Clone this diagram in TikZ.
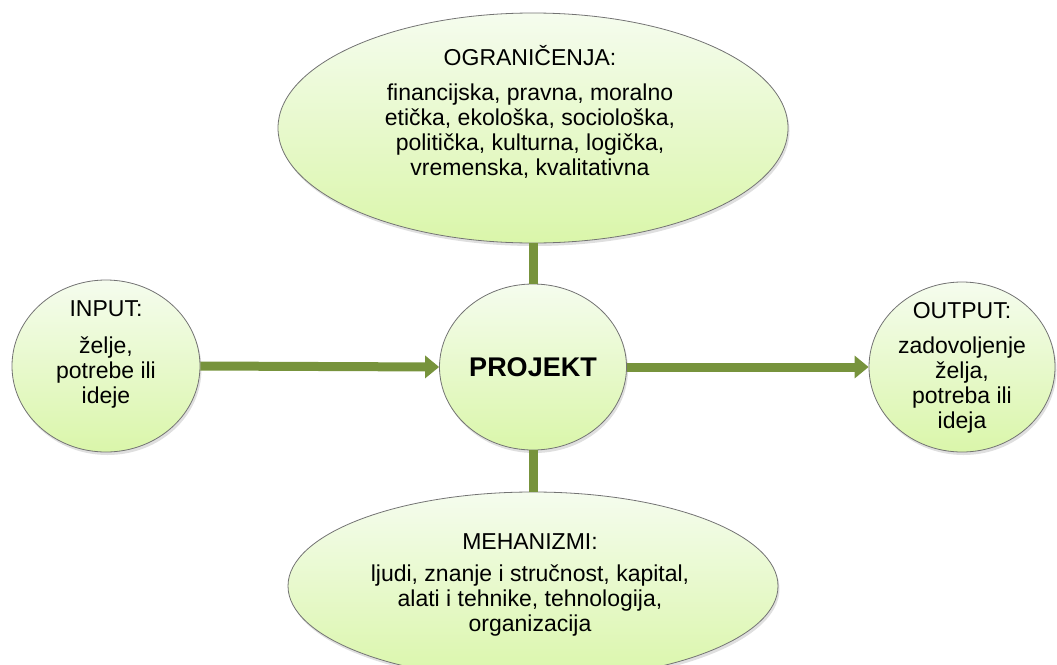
\documentclass[tikz,border=0pt]{standalone}
\usepackage{fontspec}
\setmainfont{Liberation Sans}
\usetikzlibrary{shapes.geometric,shadows,arrows.meta}
\definecolor{blobtop}{HTML}{F5FCEE}
\definecolor{blobbot}{HTML}{DAF6AA}
\definecolor{olive}{HTML}{77933C}
\newcommand{\txt}{\fontsize{23}{25}\selectfont}

\begin{document}
\begin{tikzpicture}[x=1pt,y=-1pt,
  blob/.style={ellipse,draw=black!55,line width=0.8pt,inner sep=0pt,
    top color=blobtop,bottom color=blobbot,
    drop shadow={shadow xshift=1.5pt,shadow yshift=-3pt,opacity=0.25}},
  words/.style={align=center,font=\txt,inner sep=0pt},
  conn/.style={draw=olive,line width=9pt},
  flow/.style={conn,-{Triangle[length=14pt,width=22pt]}}]
\useasboundingbox (0,0) rectangle (1057,664);
\clip (0,0) rectangle (1057,664);

% constraints on top
\node[blob,minimum width=510,minimum height=230] (ogr) at (533,128) {};
\node[words] (ogrtxt) at (530,112) {OGRANIČENJA:\\[10pt]
  financijska, pravna, moralno\\ etička, ekološka, sociološka,\\
  politička, kulturna, logička,\\ vremenska, kvalitativna};

% input / output
\node[blob,minimum width=188,minimum height=172] (inp) at (106,366) {};
\node[words] (inptxt) at (106,354) {INPUT:\\[12pt] želje,\\ potrebe ili\\ ideje};
\node[blob,minimum width=186,minimum height=170] (out) at (962,367) {};
\node[words] (outtxt) at (962,368) {OUTPUT:\\[10pt] zadovoljenje\\ želja,\\ potreba ili\\ ideja};

% project in the middle
\node[blob,minimum width=187,minimum height=166] (proj) at (533,367) {};
\node[words,font=\fontsize{27}{30}\selectfont\bfseries] (projtxt) at (proj) {PROJEKT};

% mechanisms at the bottom
\node[blob,minimum width=490,minimum height=188] (meh) at (533,586) {};
\node[words] (mehtxt) at (530,585) {MEHANIZMI:\\[7pt]
  ljudi, znanje i stručnost, kapital,\\ alati i tehnike, tehnologija,\\ organizacija};

% connectors
\draw[flow] (inp.east) -- (proj.west);
\draw[flow] (proj.east) -- (out.west);
\draw[conn] (ogr.south) -- (proj.north);
\draw[conn] (proj.south) -- (meh.north);
\end{tikzpicture}
\end{document}
